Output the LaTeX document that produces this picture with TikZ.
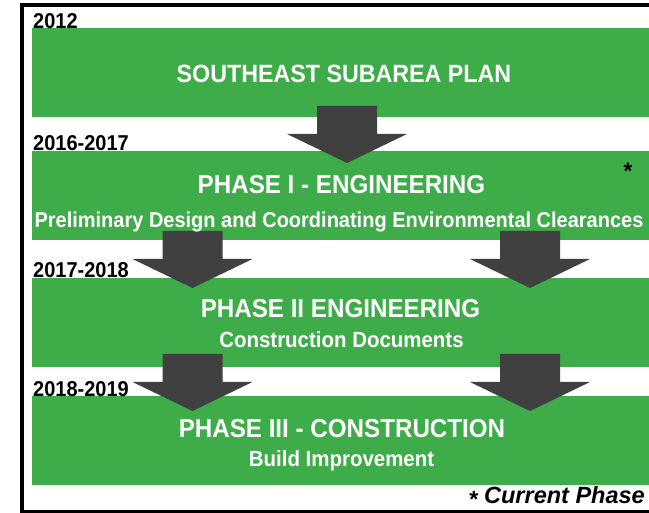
\documentclass[tikz,border=0pt]{standalone}
\usepackage{fontspec}
\setmainfont{Liberation Sans}[FakeStretch=0.93]
\newfontfamily\widefont{Liberation Sans}
\definecolor{bandgreen}{RGB}{62,172,73}
\definecolor{arrowgrey}{RGB}{64,64,64}

% block arrow hanging from its top centre
\newcommand{\blockarrow}[1]{%
  \fill[arrowgrey] (#1) ++(-30,0) -- ++(60,0) -- ++(0,28) -- ++(30,0)
    -- ++(-60,29) -- ++(-60,-29) -- ++(30,0) -- cycle;}

\begin{document}
\begin{tikzpicture}[x=1pt, y=-1pt,
    band/.style={fill=bandgreen, minimum width=617pt, minimum height=89pt, inner sep=0pt},
    heading/.style={text=white, font=\bfseries\fontsize{26}{30}\selectfont, anchor=base, inner sep=0pt},
    subheading/.style={text=white, font=\bfseries\fontsize{22}{26}\selectfont, anchor=base, inner sep=0pt},
    year/.style={font=\bfseries\fontsize{21.5}{24}\selectfont, anchor=base west, inner sep=0pt}]
    \useasboundingbox (0,0) rectangle (649,513);
    % frame
    \coordinate (F_1) at (649,5);
    \coordinate (F_2) at (22,5);
    \coordinate (F_3) at (22,511.5);
    \coordinate (F_4) at (649,511.5);
    \draw[line width=3.5pt] (F_1) -- (F_2) -- (F_3) -- (F_4);
    % bands
    \node[band] (plan) at (340.5,72.5) {};
    \node[band] (p1) at (340.5,195.5) {};
    \node[band] (p2) at (340.5,322.5) {};
    \node[band] (p3) at (340.5,440.5) {};
    % years
    \node[year] (y0) at (33,28.5) {2012};
    \node[year] (y1) at (33,151) {2016-2017};
    \node[year] (y2) at (33,278) {2017-2018};
    \node[year] (y3) at (33,397) {2018-2019};
    % arrows
    \coordinate (A_1) at (347,106);
    \coordinate (A_2) at (192.5,231);
    \coordinate (A_3) at (530,231);
    \coordinate (A_4) at (192.5,354);
    \coordinate (A_5) at (530,354);
    \blockarrow{A_1}
    \blockarrow{A_2}
    \blockarrow{A_3}
    \blockarrow{A_4}
    \blockarrow{A_5}
    % texts
    \node[heading, font=\bfseries\fontsize{25}{30}\selectfont] (plan_t) at (344,83) {SOUTHEAST SUBAREA PLAN};
    \node[heading] (p1_t) at (341.5,194) {PHASE I - ENGINEERING};
    \node[subheading, font=\bfseries\fontsize{21.5}{26}\selectfont] (p1_s) at (339,228) {Preliminary Design and Coordinating Environmental Clearances};
    \node[heading] (p2_t) at (340.5,318) {PHASE II ENGINEERING};
    \node[subheading] (p2_s) at (341.5,348) {Construction Documents};
    \node[heading] (p3_t) at (342,438) {PHASE III - CONSTRUCTION};
    \node[subheading] (p3_s) at (341.5,467) {Build Improvement};
    \node[font=\bfseries\fontsize{24}{28}\selectfont, anchor=base, inner sep=0pt] (star) at (628,180) {*};
    \node[font=\widefont\bfseries\itshape\fontsize{23.5}{26}\selectfont, anchor=base east, inner sep=0pt] (note) at (645,503.5) {\raisebox{-0.3ex}{*} Current Phase};
\end{tikzpicture}
\end{document}
